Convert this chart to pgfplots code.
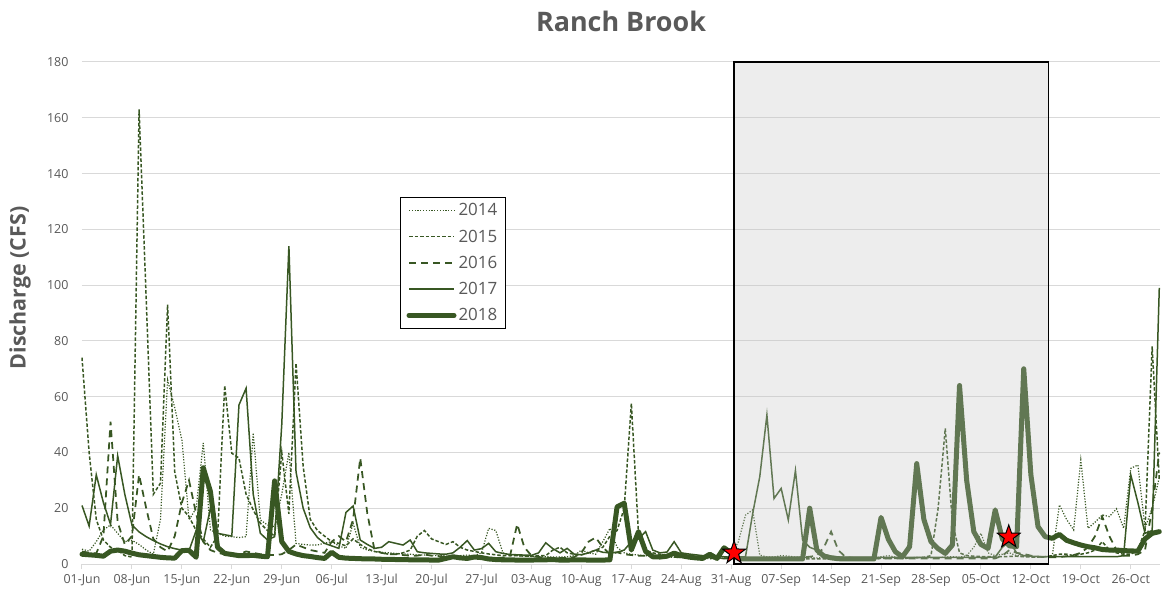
\documentclass[border=0pt]{standalone}
\usepackage{pgfplots}
\pgfplotsset{compat=1.18}
\usepackage{fontspec}
\setmainfont{Open Sans}

\definecolor{brook}{RGB}{56,87,35}
\definecolor{txt}{RGB}{89,89,89}
\definecolor{gridc}{RGB}{217,217,217}
\definecolor{boxc}{RGB}{194,194,194}

% filled five point star
\pgfdeclareplotmark{fstar}{%
  \pgfpathmoveto{\pgfpointpolar{90}{\pgfplotmarksize}}%
  \pgfpathlineto{\pgfpointpolar{126}{0.4\pgfplotmarksize}}%
  \pgfpathlineto{\pgfpointpolar{162}{\pgfplotmarksize}}%
  \pgfpathlineto{\pgfpointpolar{198}{0.4\pgfplotmarksize}}%
  \pgfpathlineto{\pgfpointpolar{234}{\pgfplotmarksize}}%
  \pgfpathlineto{\pgfpointpolar{270}{0.4\pgfplotmarksize}}%
  \pgfpathlineto{\pgfpointpolar{306}{\pgfplotmarksize}}%
  \pgfpathlineto{\pgfpointpolar{342}{0.4\pgfplotmarksize}}%
  \pgfpathlineto{\pgfpointpolar{18}{\pgfplotmarksize}}%
  \pgfpathlineto{\pgfpointpolar{54}{0.4\pgfplotmarksize}}%
  \pgfpathclose
  \pgfusepathqfillstroke}

\begin{document}
\begin{tikzpicture}
\begin{axis}[
    name=ax,
    scale only axis,
    width=1078bp, height=502bp,
    xmin=0, xmax=151.1,
    ymin=0, ymax=180,
    clip=false,
    axis x line*=bottom,
    axis y line*=left,
    y axis line style={draw=none},
    x axis line style={gridc, line width=1bp},
    xtick={0,7,...,147},
    xticklabels={01-Jun,08-Jun,15-Jun,22-Jun,29-Jun,06-Jul,13-Jul,20-Jul,27-Jul,03-Aug,10-Aug,17-Aug,24-Aug,31-Aug,07-Sep,14-Sep,21-Sep,28-Sep,05-Oct,12-Oct,19-Oct,26-Oct},
    ytick={0,20,...,180},
    ymajorgrids,
    major grid style={gridc, line width=1bp},
    tick align=outside,
    major tick length=5bp,
    xtick style={gridc, line width=1bp},
    ytick style={draw=none},
    ticklabel style={font=\fontsize{12.5}{14}\selectfont, text=txt},
    yticklabel style={xshift=-5bp},
    xticklabel style={yshift=-2bp},
    /pgf/number format/assume math mode=true,
    title={Ranch Brook},
    title style={font=\fontsize{27}{31}\selectfont\bfseries, text=txt,
        at={(0.5,1)}, anchor=center, yshift=35bp},
    ylabel={Discharge (CFS)},
    ylabel style={font=\fontsize{21.5}{24}\selectfont\bfseries, text=txt,
        at={(axis description cs:-0.0575,0.55)}, anchor=center},
    legend style={at={(0.295,0.731)}, anchor=north west, draw=black,
        line width=1bp, fill=white, font=\fontsize{17}{20}\selectfont,
        text=txt, inner xsep=6bp, inner ysep=4bp, row sep=8.5bp,
        cells={anchor=west}},
    legend image code/.code={\draw[#1] (0bp,0bp) -- (45bp,0bp);},
]

% 2014
\addplot[brook, line width=1.2bp, dash pattern=on 1.2bp off 1.6bp] coordinates {
(0,5.3)(1,4.6)(2,8)(3,12.2)(4,14)(5,11)(6,8)(7,8.5)(8,7)(9,5)
(10,3.5)(11,16)(12,66)(13,56)(14,44.5)(15,15.8)(16,20)(17,43.4)(18,12.2)(19,11)
(20,10)(21,9.8)(22,9.5)(23,9.8)(24,47)(25,15.8)(26,14)(27,13.4)(28,25)(29,40)
(30,7.4)(31,7)(32,6.8)(33,6.8)(34,7.5)(35,8)(36,6.5)(37,5.6)(38,14.6)(39,6)
(40,5)(41,4.5)(42,4.2)(43,4)(44,3.8)(45,3.6)(46,3.5)(47,3.3)(48,3.2)(49,3)
(50,3)(51,2.9)(52,2.8)(53,3)(54,3.2)(55,3)(56,4)(57,12.8)(58,12)(59,4)
(60,3.2)(61,3)(62,2.8)(63,2.7)(64,2.6)(65,2.6)(66,2.5)(67,2.5)(68,2.6)(69,3)
(70,5)(71,4)(72,3.5)(73,8)(74,12.8)(75,6)(76,4)(77,3.5)(78,3.2)(79,3)
(80,2.8)(81,2.6)(82,2.5)(83,2.4)(84,2.3)(85,2.2)(86,2.1)(87,2)(88,1.9)(89,1.9)
(90,2)(91,3)(92,8)(93,17.5)(94,19.4)(95,3.2)(96,2.5)(97,2.5)(98,3)(99,2.8)
(100,2.5)(101,2.4)(102,2.3)(103,2.2)(104,2.4)(105,2.6)(106,2.3)(107,2.2)(108,2.1)(109,2.1)
(110,2)(111,2)(112,2.6)(113,3)(114,2.5)(115,2.3)(116,2.2)(117,2.4)(118,2.3)(119,2.2)
(120,2.2)(121,2.5)(122,2.6)(123,2.4)(124,3)(125,6)(126,11)(127,4)(128,3)(129,3.5)
(130,4)(131,3)(132,2.8)(133,2.6)(134,2.5)(135,2.5)(136,3)(137,21.2)(138,16)(139,12.2)
(140,37.3)(141,12.8)(142,15)(143,17.6)(144,17)(145,19.8)(146,12.8)(147,34.3)(148,35.5)(149,12.8)
(150,20)(151,31)
};

% 2015
\addplot[brook, line width=1.5bp, dash pattern=on 3.5bp off 2bp] coordinates {
(0,74)(1,40)(2,16)(3,8.6)(4,6)(5,5)(6,3)(7,2.5)(8,163)(9,95)
(10,25)(11,29)(12,93)(13,33)(14,20)(15,17)(16,12)(17,9)(18,6)(19,10)
(20,64)(21,39.7)(22,38)(23,25)(24,19.4)(25,14.6)(26,12)(27,10)(28,40)(29,18)
(30,72)(31,35)(32,16)(33,12)(34,10)(35,8)(36,7.4)(37,6.5)(38,9)(39,7)
(40,5.5)(41,4.5)(42,4)(43,3.5)(44,3.5)(45,4)(46,5)(47,10)(48,12)(49,9)
(50,8)(51,7)(52,8)(53,6)(54,5)(55,4.5)(56,4)(57,3.6)(58,3.3)(59,3)
(60,3)(61,3)(62,2.8)(63,2.8)(64,3)(65,3)(66,5)(67,6)(68,4)(69,3.5)
(70,3.3)(71,4)(72,5)(73,6)(74,10)(75,12)(76,20)(77,57.6)(78,11)(79,5)
(80,4)(81,3.5)(82,3.2)(83,3)(84,2.8)(85,2.6)(86,2.5)(87,2.4)(88,2.3)(89,2.2)
(90,2.1)(91,2.1)(92,2)(93,2)(94,2)(95,2)(96,1.9)(97,1.9)(98,1.9)(99,1.9)
(100,1.9)(101,1.8)(102,1.8)(103,1.8)(104,1.8)(105,1.8)(106,1.8)(107,1.8)(108,1.8)(109,1.8)
(110,1.8)(111,1.9)(112,2)(113,2)(114,2)(115,2)(116,2.1)(117,2.2)(118,2.4)(119,3)
(120,20)(121,48.6)(122,15)(123,4)(124,3)(125,2.8)(126,2.7)(127,2.6)(128,2.6)(129,2.6)
(130,2.7)(131,2.8)(132,2.6)(133,2.5)(134,2.5)(135,2.6)(136,3)(137,3.5)(138,3.5)(139,3)
(140,3.5)(141,4)(142,5)(143,8)(144,5)(145,4)(146,3.5)(147,3.5)(148,5)(149,12)
(150,78)(151,30)
};

% 2016
\addplot[brook, line width=1.75bp, dash pattern=on 7bp off 5bp] coordinates {
(0,4.5)(1,4)(2,3.8)(3,10)(4,51)(5,15)(6,7)(7,10)(8,32)(9,20)
(10,9)(11,6)(12,4.5)(13,10)(14,22)(15,30)(16,18)(17,8)(18,5)(19,4)
(20,3.5)(21,3.3)(22,3.5)(23,4.5)(24,4)(25,3.5)(26,3.3)(27,3.2)(28,3.5)(29,5)
(30,7)(31,6)(32,5)(33,4.5)(34,4)(35,8)(36,10)(37,8)(38,16)(39,38)
(40,18)(41,5)(42,4)(43,3.5)(44,3.5)(45,3.2)(46,3)(47,3)(48,3.4)(49,3)
(50,2.8)(51,2.6)(52,2.5)(53,2.4)(54,2.4)(55,2.3)(56,2.3)(57,2.2)(58,2.2)(59,2.3)
(60,3)(61,14.3)(62,6)(63,3)(64,2.5)(65,2.3)(66,2.2)(67,2.2)(68,2.1)(69,2.5)
(70,4)(71,8)(72,9.5)(73,6)(74,3.5)(75,4.2)(76,3.5)(77,3.2)(78,3)(79,3)
(80,2.8)(81,2.7)(82,2.6)(83,2.5)(84,2.4)(85,2.3)(86,2.2)(87,2.2)(88,2.1)(89,2.1)
(90,2)(91,2)(92,2)(93,2)(94,2)(95,2)(96,2)(97,2)(98,2)(99,2)
(100,2.2)(101,2.4)(102,2.6)(103,3)(104,6)(105,11.6)(106,5)(107,2.5)(108,2.2)(109,2.1)
(110,2)(111,2)(112,2)(113,2)(114,2)(115,2)(116,2)(117,2)(118,2)(119,2)
(120,2)(121,2)(122,2)(123,2)(124,2)(125,2)(126,2)(127,2)(128,2)(129,3)
(130,5)(131,4)(132,3.6)(133,3)(134,2.6)(135,2.5)(136,2.4)(137,2.5)(138,2.8)(139,3.2)
(140,4)(141,6)(142,10)(143,17)(144,10)(145,5)(146,3)(147,3)(148,3.5)(149,5)
(150,20)(151,40)
};

% 2017
\addplot[brook, line width=1.5bp] coordinates {
(0,21)(1,13.6)(2,32)(3,22)(4,14.2)(5,38.8)(6,25)(7,14)(8,11.5)(9,9.8)
(10,8.4)(11,7.2)(12,6.2)(13,5.5)(14,5)(15,4.8)(16,12)(17,8)(18,20)(19,11)
(20,10.5)(21,10)(22,57)(23,63)(24,25)(25,11)(26,8.6)(27,9.8)(28,50)(29,114)
(30,33)(31,20)(32,13)(33,9.5)(34,7.4)(35,6.5)(36,5.6)(37,18.5)(38,20.8)(39,8.6)
(40,7)(41,5.6)(42,6)(43,8)(44,7.4)(45,6.8)(46,8.6)(47,4.4)(48,4)(49,3.8)
(50,3.6)(51,3.5)(52,4)(53,6)(54,8.4)(55,5)(56,5.5)(57,7.4)(58,4.4)(59,3.8)
(60,3.4)(61,3.3)(62,3.2)(63,3.1)(64,4)(65,7.6)(66,5.5)(67,4)(68,5.6)(69,3.5)
(70,3.3)(71,4)(72,5)(73,4.2)(74,4)(75,4.2)(76,5)(77,8)(78,9)(79,11.6)
(80,5)(81,4)(82,4.3)(83,8)(84,4)(85,3.6)(86,3.3)(87,3)(88,2.8)(89,2.8)
(90,2.6)(91,2.4)(92,2.4)(93,2.6)(94,18)(95,31.3)(96,53.4)(97,23.5)(98,27.1)(99,15.8)
(100,33.5)(101,8.6)(102,6)(103,5)(104,3.5)(105,2.8)(106,2.5)(107,2.4)(108,2.4)(109,2.4)
(110,2.4)(111,2.4)(112,2.4)(113,2.4)(114,2.4)(115,2.4)(116,2.4)(117,2.4)(118,2.4)(119,2.4)
(120,2.4)(121,2.4)(122,2.4)(123,2.4)(124,2.4)(125,2.4)(126,2.4)(127,2.4)(128,2.5)(129,6)
(130,8)(131,4)(132,3)(133,2.8)(134,2.7)(135,2.6)(136,2.6)(137,2.6)(138,2.6)(139,2.6)
(140,2.6)(141,2.6)(142,2.6)(143,2.6)(144,2.6)(145,2.6)(146,3)(147,32)(148,22)(149,11)
(150,12)(151,99)
};

% 2018
\addplot[brook, line width=5bp, line join=round, line cap=round] coordinates {
(0,3.5)(1,3.3)(2,3.1)(3,2.8)(4,4.6)(5,5)(6,4.6)(7,3.9)(8,3.3)(9,3)
(10,2.7)(11,2.4)(12,2.2)(13,2.1)(14,4.8)(15,4.9)(16,2.4)(17,34.5)(18,26)(19,6)
(20,3.8)(21,3.4)(22,3)(23,3)(24,3.1)(25,2.8)(26,2.6)(27,29.8)(28,8)(29,4.5)
(30,3.6)(31,3)(32,2.7)(33,2.3)(34,2)(35,4.2)(36,2.4)(37,2.1)(38,2)(39,1.9)
(40,1.8)(41,1.8)(42,1.7)(43,1.7)(44,1.6)(45,1.6)(46,1.5)(47,1.5)(48,1.5)(49,1.4)
(50,1.4)(51,2)(52,2.6)(53,2.2)(54,2)(55,2.5)(56,2.3)(57,1.8)(58,1.6)(59,1.5)
(60,1.5)(61,1.4)(62,1.4)(63,1.4)(64,1.5)(65,1.5)(66,1.6)(67,1.4)(68,1.4)(69,1.5)
(70,1.5)(71,1.4)(72,1.4)(73,1.4)(74,1.5)(75,20.5)(76,21.8)(77,5)(78,11.6)(79,4.5)
(80,2.6)(81,2.5)(82,2.8)(83,3.9)(84,3)(85,2.5)(86,2.2)(87,2)(88,3.5)(89,2)
(90,5.8)(91,4)(92,2)(93,1.8)(94,1.8)(95,1.8)(96,1.8)(97,1.8)(98,1.8)(99,1.8)
(100,1.8)(101,1.8)(102,20)(103,5)(104,2.8)(105,2.2)(106,1.9)(107,1.8)(108,1.8)(109,1.8)
(110,1.8)(111,1.8)(112,16.7)(113,9)(114,4.4)(115,2.6)(116,6.2)(117,36)(118,16)(119,8)
(120,5.5)(121,3.8)(122,6.8)(123,64)(124,30)(125,11.6)(126,7)(127,5.6)(128,19.4)(129,9)
(130,6.5)(131,6.2)(132,70)(133,32)(134,13.4)(135,9.8)(136,9.2)(137,10.6)(138,8.5)(139,7.6)
(140,6.8)(141,6.2)(142,5.8)(143,5.2)(144,5)(145,5)(146,4.8)(147,4.7)(148,4.6)(149,9)
(150,11)(151,11.6)
};

\legend{2014,2015,2016,2017,2018}

% shaded period
\draw[black, line width=1.5bp, fill=boxc, fill opacity=0.3]
    (axis cs:91.4,0) rectangle (axis cs:135.5,180);

% sampling dates
\addplot[only marks, mark=fstar, mark size=12bp, forget plot,
    mark options={fill=red, draw=black, line width=1bp}]
    coordinates {(91.4,4)(129.9,9.7)};
\end{axis}
\pgfresetboundingbox
\path ([shift={(-82bp,-26bp)}]ax.south west) rectangle ([shift={(2bp,62bp)}]ax.north east);
\end{tikzpicture}
\end{document}
